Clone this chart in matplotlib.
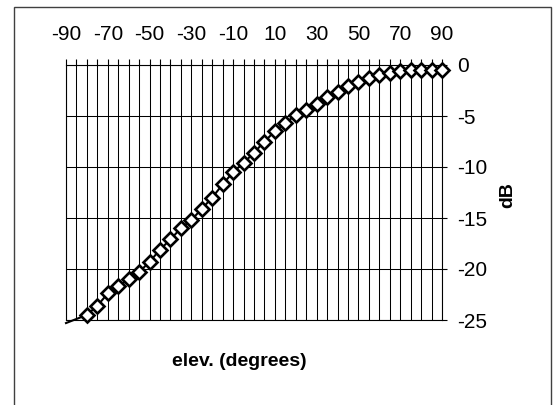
import matplotlib

matplotlib.use("Agg")
import matplotlib.pyplot as plt
from matplotlib.patches import Rectangle
from matplotlib.ticker import MultipleLocator

plt.rcParams["font.family"] = ["Liberation Sans", "DejaVu Sans"]

# elevation angle (degrees) and gain (dB)
elev = [-90, -85, -80, -75, -70, -65, -60, -55, -50, -45, -40, -35, -30,
        -25, -20, -15, -10, -5, 0, 5, 10, 15, 20, 25, 30, 35, 40, 45,
        50, 55, 60, 65, 70, 75, 80, 85, 90]
gain_db = [-25.3, -24.9, -24.5, -23.6, -22.4, -21.7, -21.0, -20.3, -19.3,
           -18.1, -17.1, -16.0, -15.2, -14.1, -13.0, -11.7, -10.5, -9.6,
           -8.6, -7.5, -6.5, -5.7, -4.9, -4.4, -3.8, -3.1, -2.6, -2.1,
           -1.7, -1.3, -1.0, -0.8, -0.6, -0.5, -0.5, -0.5, -0.5]
x_labels = [-90, -70, -50, -30, -10, 10, 30, 50, 70, 90]
y_labels = [0, -5, -10, -15, -20, -25]

W, H = 555, 405
fig = plt.figure(figsize=(W / 100, H / 100), dpi=100)
ax = fig.add_axes([66 / W, (H - 320) / H, 376 / W, 255 / H])

# outer frame (bottom edge runs off the picture)
fig.patches.append(Rectangle((14 / W, -0.05), 536.5 / W, 1.05 - 7 / H,
                             transform=fig.transFigure, fill=False,
                             edgecolor="#404040", linewidth=1.0))

ax.plot(elev, gain_db, color="black", linewidth=1.5, marker="D",
        markersize=6.8, markerfacecolor="white", markeredgecolor="black",
        markeredgewidth=1.9, markevery=list(range(2, len(elev))),
        clip_on=False, zorder=3)

ax.set_xlim(-90, 90)
ax.set_ylim(-25, 0)

ax.set_xticks(x_labels, [str(v) for v in x_labels], minor=False)
ax.xaxis.set_minor_locator(MultipleLocator(5))
ax.set_yticks(y_labels, [str(v) for v in y_labels])

ax.xaxis.tick_top()
ax.yaxis.tick_right()
ax.tick_params(axis="x", which="both", direction="out", length=4.3,
               width=0.8, pad=11, labelsize=15)
ax.tick_params(axis="y", which="both", direction="out", length=3.6,
               width=0.8, pad=7, labelsize=15)

ax.grid(True, which="both", color="black", linewidth=0.75)
ax.set_axisbelow(True)
for spine in ax.spines.values():
    spine.set_linewidth(0.8)

fig.text(508 / W, 1 - 195 / H, "dB", rotation=90, ha="center", va="center",
         fontsize=14, fontweight="bold")
fig.text(239 / W, 1 - 361 / H, "elev. (degrees)", ha="center", va="center",
         fontsize=14, fontweight="bold")

fig.savefig("out.png", dpi=100)
